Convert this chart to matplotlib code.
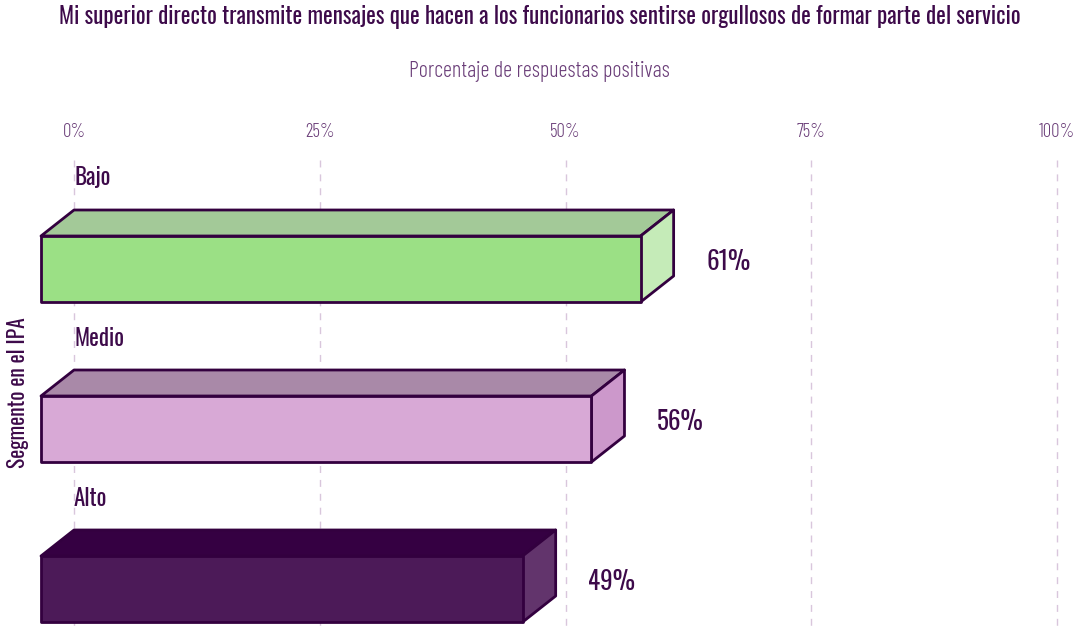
import matplotlib
matplotlib.use("Agg")
import matplotlib.pyplot as plt
from matplotlib import font_manager
from matplotlib.patches import Polygon

categories = ["Bajo", "Medio", "Alto"]
values = [61, 56, 49]
tick_values = [0, 25, 50, 75, 100]
tick_labels = ["0%", "25%", "50%", "75%", "100%"]
title = "Mi superior directo transmite mensajes que hacen a los funcionarios sentirse orgullosos de formar parte del servicio"
x_title = "Porcentaje de respuestas positivas"
y_title = "Segmento en el IPA"

front_colors = ["#9BE085", "#D8A9D6", "#4C1A58"]
top_colors = ["#A3C998", "#A989A8", "#350042"]
side_colors = ["#C5EBB8", "#CC98CB", "#62346C"]
edge = "#33003F"
text_color = "#3D0A4A"
light_text = "#6A3D78"
grid_color = "#D9C6DC"

fonts = font_manager.fontManager.ttflist
names = {f.name for f in fonts}
fam = next((n for n in ["Oswald", "Barlow Condensed", "DejaVu Sans"] if n in names), "DejaVu Sans")
light_fam = next((n for n in ["Oswald ExtraLight", "Oswald Light", "Barlow Condensed", "Asap Condensed"]
                  if n in names), fam)
plt.rcParams["font.family"] = [fam, "DejaVu Sans"]
light_kw = dict(family=[light_fam, "DejaVu Sans"], fontweight=300)

fig = plt.figure(figsize=(10.85, 6.26), dpi=100)
ax = fig.add_axes([0, 0, 1, 1])
px_per_pct = 9.83
x0 = 74
ax.set_xlim(-x0 / px_per_pct, (1085 - x0) / px_per_pct)
row0, rowstep = 269, 160
ax.set_ylim((626 - row0) / rowstep, -row0 / rowstep)
ax.axis("off")

dx = 33 / px_per_pct
dy = 26 / rowstep
h = 66 / rowstep

# grid
for t, lab in zip(tick_values, tick_labels):
    ax.plot([t, t], [(160 - row0) / rowstep, (626 - row0) / rowstep], ls=(0, (5, 5)),
            color=grid_color, lw=1, zorder=0)
    ax.text(t, (132 - row0) / rowstep, lab, ha="center", va="center",
            color=light_text, fontsize=13.5, **light_kw)

for i, (cat, v) in enumerate(zip(categories, values)):
    yt = i - h / 2
    yb = i + h / 2
    front = Polygon([(-dx, yt), (v - dx, yt), (v - dx, yb), (-dx, yb)], closed=True,
                    facecolor=front_colors[i], edgecolor=edge, lw=2, zorder=3, joinstyle="round")
    top = Polygon([(-dx, yt), (0, yt - dy), (v, yt - dy), (v - dx, yt)], closed=True,
                  facecolor=top_colors[i], edgecolor=edge, lw=2, zorder=2, joinstyle="round")
    side = Polygon([(v - dx, yt), (v, yt - dy), (v, yb - dy), (v - dx, yb)], closed=True,
                   facecolor=side_colors[i], edgecolor=edge, lw=2, zorder=2, joinstyle="round")
    for p in (top, side, front):
        ax.add_patch(p)
    ax.text(0, i - 91 / rowstep, cat, ha="left", va="center", color=text_color, fontsize=16.5)
    ax.text(v + 3.3, i - 7 / rowstep, f"{v}%", ha="left", va="center", color=text_color, fontsize=18)

fig.text(540 / 1085, 1 - 17 / 626, title, ha="center", va="center", color=text_color,
         fontsize=16.5, fontweight="normal")
fig.text(539 / 1085, 1 - 72 / 626, x_title, ha="center", va="center", color=light_text,
         fontsize=16, **light_kw)
fig.text(18 / 1085, 1 - 393 / 626, y_title, ha="center", va="center", rotation=90,
         color=text_color, fontsize=15.5)

fig.savefig("out.png", dpi=100)
